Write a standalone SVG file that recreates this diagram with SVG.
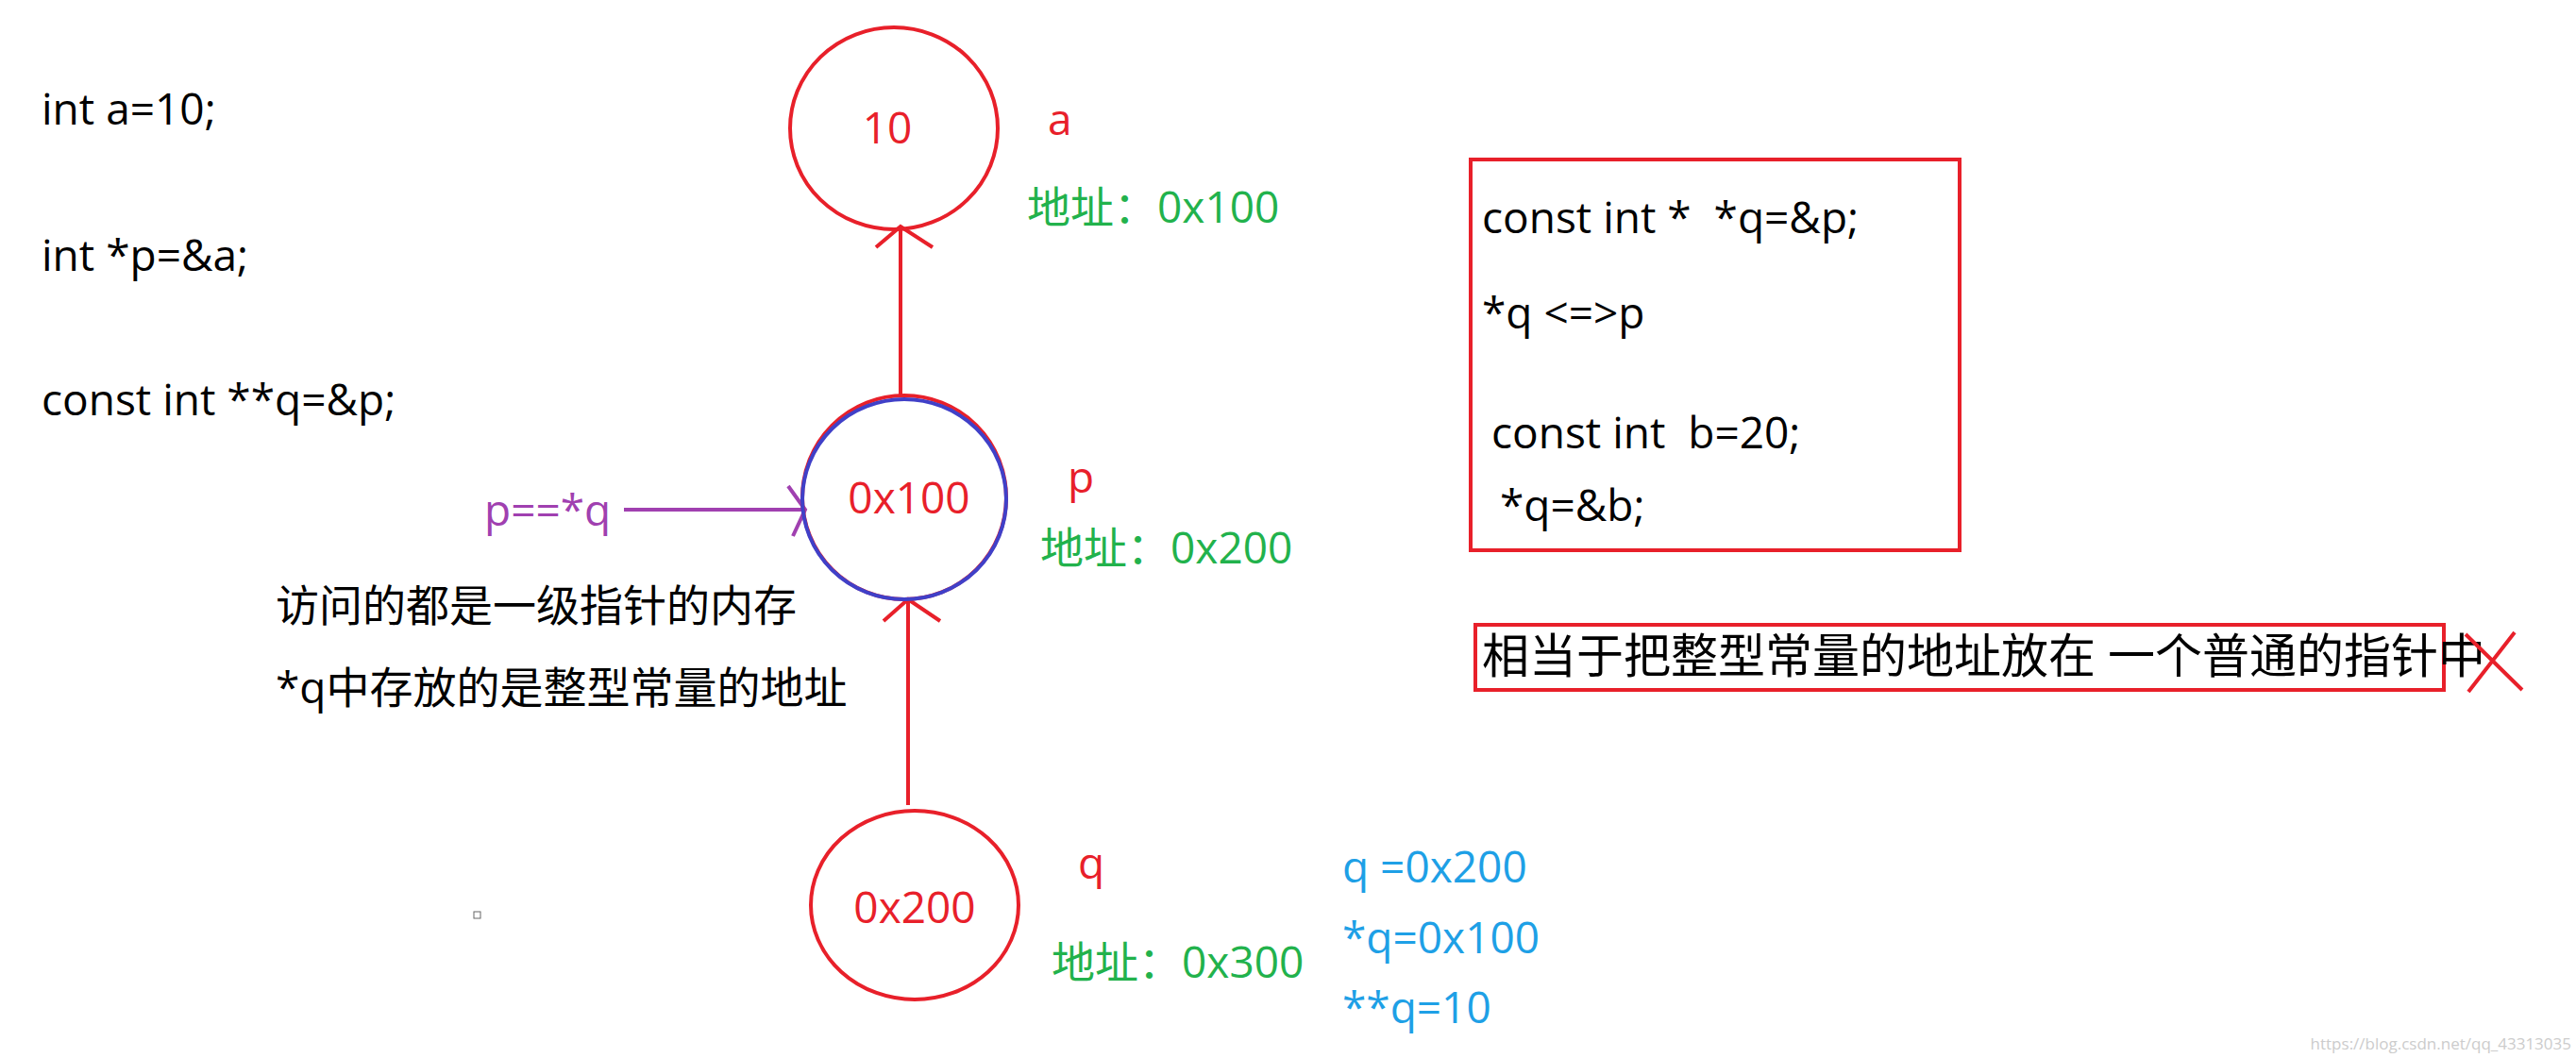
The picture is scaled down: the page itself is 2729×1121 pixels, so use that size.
<svg xmlns="http://www.w3.org/2000/svg" width="2729" height="1121" viewBox="0 0 2729 1121">
<style>
text{font-family:"Open Sans","Noto Sans CJK SC",sans-serif;font-size:46px}
.k{fill:#000}.r{fill:#e8202a}.g{fill:#22b24c}.b{fill:#1ea0e6}.pu{fill:#a040b0}
.c{fill:none;stroke:#e8202a;stroke-width:4}
.ln{stroke:#e8202a;stroke-width:4;fill:none}
.m{text-anchor:middle}
</style>
<defs>
<marker id="ah" markerWidth="16" markerHeight="16" refX="14" refY="8" orient="auto" markerUnits="userSpaceOnUse" viewBox="0 0 16 16"><path d="M0,0 L14,8 L0,16" fill="none" stroke="context-stroke" stroke-width="3"/></marker>
</defs>
<rect width="2729" height="1121" fill="#fff"/>
<g id="code">
<text class="k" x="44" y="132">int a=10;</text>
<text class="k" x="44" y="287">int *p=&amp;a;</text>
<text class="k" x="44" y="440">const int **q=&amp;p;</text>
</g>
<g id="connectors">
<line x1="954" y1="418" x2="954" y2="240" class="ln"/>
<path d="M928,262 L954,240 L988,262" class="ln"/>
<line x1="962" y1="853" x2="962" y2="635" class="ln"/>
<path d="M936,658 L962,635 L996,658" class="ln"/>
<line x1="661" y1="540" x2="853" y2="540" stroke="#a040b0" stroke-width="4"/>
<path d="M835,515 L853,540 L840,568" fill="none" stroke="#a040b0" stroke-width="4"/>
</g>
<g id="node-a">
<ellipse cx="947" cy="136" rx="110" ry="107" class="c"/>
<text class="r m" x="940" y="152">10</text>
<text class="r" x="1110" y="143">a</text>
<text class="g" x="1088" y="236">地址：0x100</text>
</g>
<g id="node-p">
<ellipse cx="958" cy="527" rx="108" ry="108" class="c"/>
<ellipse cx="958" cy="529" rx="108" ry="106" fill="none" stroke="#4040c8" stroke-width="4"/>
<text class="r m" x="963" y="544">0x100</text>
<text class="r" x="1131" y="522">p</text>
<text class="g" x="1102" y="597">地址：0x200</text>
<text class="pu" x="513" y="557">p==*q</text>
</g>
<g id="notes">
<text class="k" x="292" y="658">访问的都是一级指针的内存</text>
<text class="k" x="292" y="745">*q中存放的是整型常量的地址</text>
<rect x="502" y="966" width="7" height="7" fill="none" stroke="#666" stroke-width="1"/>
</g>
<g id="node-q">
<ellipse cx="969" cy="959" rx="110" ry="100" class="c"/>
<text class="r m" x="969" y="978">0x200</text>
<text class="r" x="1142" y="931">q</text>
<text class="g" x="1114" y="1036">地址：0x300</text>
<rect x="1384" y="990" width="30" height="60" fill="#fff"/>
</g>
<g id="values">
<text class="b" x="1422" y="935">q =0x200</text>
<text class="b" x="1422" y="1010">*q=0x100</text>
<text class="b" x="1422" y="1084">**q=10</text>
</g>
<g id="box1">
<rect x="1558" y="169" width="518" height="414" class="c"/>
<text class="k" x="1570" y="247" xml:space="preserve">const int *  *q=&amp;p;</text>
<text class="k" x="1570" y="348">*q &lt;=&gt;p</text>
<text class="k" x="1580" y="475" xml:space="preserve">const int  b=20;</text>
<text class="k" x="1589" y="552">*q=&amp;b;</text>
</g>
<g id="box2">
<rect x="1563" y="662" width="1026" height="69" class="c"/>
<text class="k" x="1570" y="713" style="font-size:50px" xml:space="preserve">相当于把整型常量的地址放在 一个普通的指针中</text>
<path d="M2612,672 L2672,731 M2664,670 L2615,733" class="ln"/>
</g>
<text x="2724" y="1112" text-anchor="end" style="font-size:17px;fill:#ccc">https://blog.csdn.net/qq_43313035</text>
</svg>
